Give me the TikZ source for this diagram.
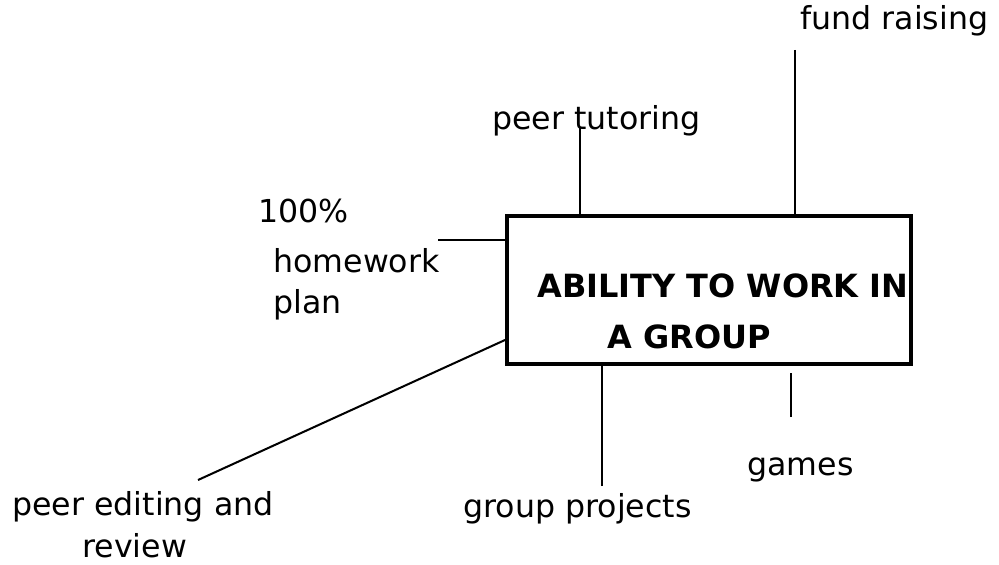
\documentclass[tikz,border=0pt]{standalone}
\usepackage{fontspec}
\setmainfont{DejaVu Sans}
\begin{document}
\begin{tikzpicture}[x=0.02cm,y=-0.02cm,
  lbl/.style={anchor=base west,inner sep=0pt,font=\fontsize{18}{21}\selectfont},
  ttl/.style={anchor=base west,inner sep=0pt,font=\fontsize{18.2}{21}\selectfont\bfseries},
  conn/.style={line width=1.15pt},
  boxst/.style={draw,line width=2.3pt,minimum width=8.08cm,minimum height=2.96cm,inner sep=0pt}]
\useasboundingbox (0,0) rectangle (999,564);
\node[boxst] (box) at (709,290) {};
\node[ttl] (t1) at (537,297) {ABILITY TO WORK IN};
\node[ttl] (t2) at (607,348) {A GROUP};
% labels
\node[lbl] (fund) at (800,30) {fund raising};
\node[lbl] (tutor) at (492,130) {peer tutoring};
\node[lbl] (hw1) at (258,222) {100\%};
\node[lbl] (hw2) at (273,272) {homework};
\node[lbl] (hw3) at (273,313) {plan};
\node[lbl] (edit1) at (12,515) {peer editing and};
\node[lbl] (edit2) at (82,557) {review};
\node[lbl] (proj) at (463,517) {group projects};
\node[lbl] (games) at (747,475) {games};
% connector end coordinates
\coordinate (cf) at (795,50);
\coordinate (ct) at (580,128);
\coordinate (ch) at (438,240);
\coordinate (ce) at (198,480);
\coordinate (cp) at (602,486);
\coordinate (cg) at (791,417);
\draw[conn] (cf) -- (box.north -| cf);
\draw[conn] (ct) -- (box.north -| ct);
\draw[conn] (ch) -- (box.west |- ch);
\draw[conn] (ce) -- (box.west |- 0,340);
\draw[conn] (cp) -- (box.south -| cp);
\draw[conn,shorten >=0.14cm] (cg) -- (box.south -| cg);
\end{tikzpicture}
\end{document}
